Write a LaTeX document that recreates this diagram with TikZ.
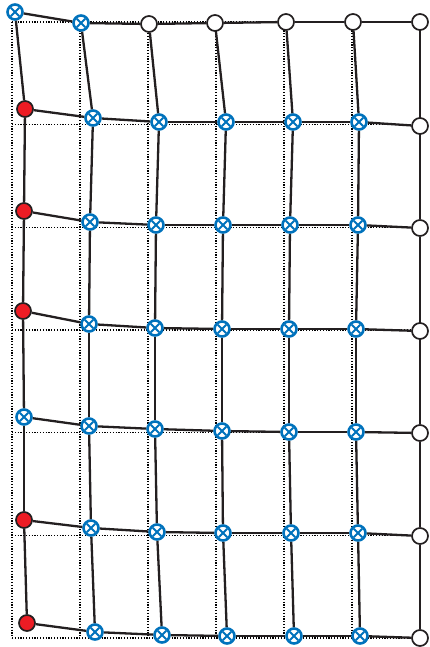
\documentclass[tikz,border=0pt]{standalone}
\definecolor{xblue}{RGB}{0,114,188}
\definecolor{xred}{RGB}{237,28,36}
\definecolor{lk}{RGB}{35,31,32}
\begin{document}
\begin{tikzpicture}[x=1pt,y=-1pt,
  edge/.style={draw=lk,line width=2.3pt},
  dotgrid/.style={draw=black,line width=1.2pt,dash pattern=on 1.2pt off 1.6pt},
  bnode/.style={circle,draw=xblue,line width=2.6pt,fill=white,minimum size=15pt,inner sep=0pt,
    path picture={\draw[xblue,line width=2pt]
      ([shift={(-4.2pt,-4.2pt)}]path picture bounding box.center) -- ([shift={(4.2pt,4.2pt)}]path picture bounding box.center)
      ([shift={(-4.2pt,4.2pt)}]path picture bounding box.center) -- ([shift={(4.2pt,-4.2pt)}]path picture bounding box.center);}},
  rnode/.style={circle,draw=lk,line width=1.7pt,fill=xred,minimum size=16pt,inner sep=0pt},
  wnode/.style={circle,draw=lk,line width=1.7pt,fill=white,minimum size=16pt,inner sep=0pt}]
\useasboundingbox (0,0) rectangle (429,647);
% dotted reference grid
\foreach \i in {0,...,6}{
  \draw[dotgrid] (12+68*\i,22) -- (12+68*\i,638);
  \draw[dotgrid] (12,22+102.67*\i) -- (420,22+102.67*\i);
}
% row 0
\node[bnode] (n00) at (15,12) {};
\node[bnode] (n01) at (81,23) {};
\node[wnode] (n02) at (149,24) {};
\node[wnode] (n03) at (215,23) {};
\node[wnode] (n04) at (286,22) {};
\node[wnode] (n05) at (353,22) {};
\node[wnode] (n06) at (420,22) {};
% row 1
\node[rnode] (n10) at (25,109) {};
\node[bnode] (n11) at (93,118) {};
\node[bnode] (n12) at (159,122) {};
\node[bnode] (n13) at (226,122) {};
\node[bnode] (n14) at (293,122) {};
\node[bnode] (n15) at (359,122) {};
\node[wnode] (n16) at (420,126) {};
% row 2
\node[rnode] (n20) at (24,211) {};
\node[bnode] (n21) at (90,222) {};
\node[bnode] (n22) at (156,225) {};
\node[bnode] (n23) at (223,225) {};
\node[bnode] (n24) at (290,225) {};
\node[bnode] (n25) at (358,225) {};
\node[wnode] (n26) at (420,228) {};
% row 3
\node[rnode] (n30) at (23,311) {};
\node[bnode] (n31) at (89,324) {};
\node[bnode] (n32) at (155,328) {};
\node[bnode] (n33) at (222,329) {};
\node[bnode] (n34) at (289,329) {};
\node[bnode] (n35) at (356,329) {};
\node[wnode] (n36) at (420,331) {};
% row 4
\node[bnode] (n40) at (24,417) {};
\node[bnode] (n41) at (89,426) {};
\node[bnode] (n42) at (155,429) {};
\node[bnode] (n43) at (222,431) {};
\node[bnode] (n44) at (289,432) {};
\node[bnode] (n45) at (356,432) {};
\node[wnode] (n46) at (420,433) {};
% row 5
\node[rnode] (n50) at (24,520) {};
\node[bnode] (n51) at (91,528) {};
\node[bnode] (n52) at (157,532) {};
\node[bnode] (n53) at (223,533) {};
\node[bnode] (n54) at (291,533) {};
\node[bnode] (n55) at (358,533) {};
\node[wnode] (n56) at (420,536) {};
% row 6
\node[rnode] (n60) at (27,623) {};
\node[bnode] (n61) at (95,632) {};
\node[bnode] (n62) at (162,635) {};
\node[bnode] (n63) at (227,636) {};
\node[bnode] (n64) at (294,636) {};
\node[bnode] (n65) at (360,636) {};
\node[wnode] (n66) at (420,638) {};
% connectors
\foreach \r in {0,...,6}{
  \foreach \c [count=\cn from 1] in {0,...,5}{
    \draw[edge] (n\r\c) -- (n\r\cn);
  }
}
\foreach \c in {0,...,6}{
  \foreach \r [count=\rn from 1] in {0,...,5}{
    \draw[edge] (n\r\c) -- (n\rn\c);
  }
}
\end{tikzpicture}
\end{document}
